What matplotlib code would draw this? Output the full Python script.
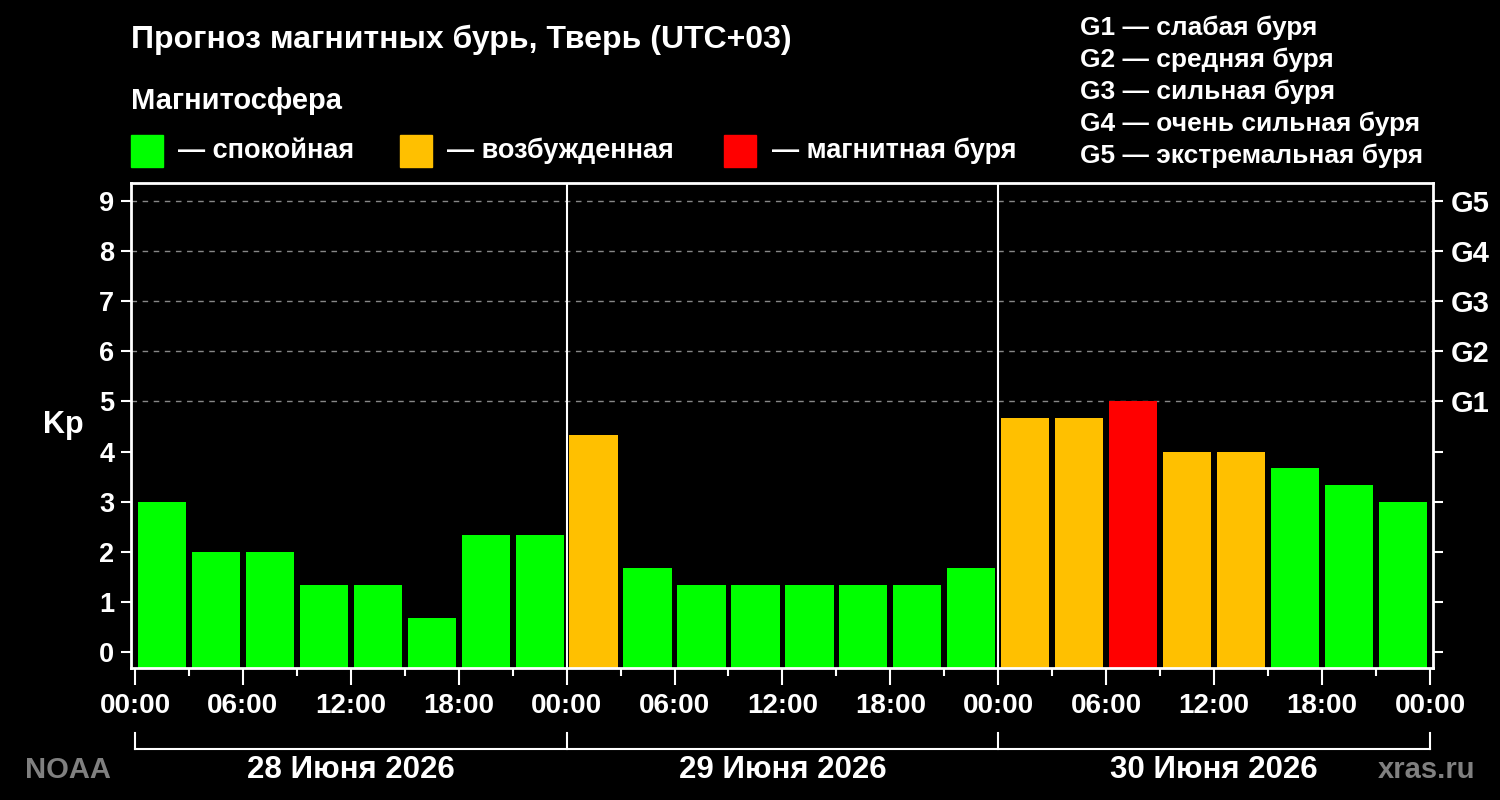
import matplotlib
matplotlib.use("Agg")
import matplotlib.pyplot as plt
import matplotlib.transforms as mtransforms

# данные прогноза Kp, шаг 3 часа
kp = [3.0, 2.0, 2.0, 1.33, 1.33, 0.67, 2.33, 2.33,
      4.33, 1.67, 1.33, 1.33, 1.33, 1.33, 1.33, 1.67,
      4.67, 4.67, 5.0, 4.0, 4.0, 3.67, 3.33, 3.0]
days = ["28 Июня 2026", "29 Июня 2026", "30 Июня 2026"]
time_labels = ["00:00", "06:00", "12:00", "18:00"] * 3 + ["00:00"]
g_levels = ["G1", "G2", "G3", "G4", "G5"]
g_names = ["слабая буря", "средняя буря", "сильная буря",
           "очень сильная буря", "экстремальная буря"]

GREEN = "#00ff00"
ORANGE = "#ffc000"
RED = "#ff0000"


def kp_color(v):
    if v >= 5:
        return RED
    if v >= 4:
        return ORANGE
    return GREEN


FONT = ["Liberation Sans", "DejaVu Sans"]

fig = plt.figure(figsize=(15, 8), dpi=100, facecolor="black")
ax = fig.add_axes([131 / 1500, 132 / 800, 1302 / 1500, 485 / 800])
ax.set_facecolor("black")

hours = [i * 3 + 1.5 for i in range(len(kp))]
ax.bar(hours, [v + 0.32 for v in kp], bottom=-0.32, width=2.68,
       color=[kp_color(v) for v in kp], zorder=2)

ax.set_xlim(-0.22, 72.17)
ax.set_ylim(-0.32, 9.36)

for s in ax.spines.values():
    s.set_color("white")
    s.set_linewidth(2)

# сетка только для уровней G
for y in range(5, 10):
    ax.axhline(y, color="#888888", lw=1, ls=(0, (4, 4)), zorder=1)

# разделители суток
for d in (24, 48):
    ax.axvline(d, color="white", lw=1.5, zorder=3)

ax.set_yticks(range(10))
ax.set_yticklabels([str(i) for i in range(10)], fontsize=19.5,
                   fontweight="bold", family=FONT, color="white")
ax.tick_params(axis="y", colors="white", length=7, width=1.5,
               direction="out", pad=5)

ax.set_xticks(range(0, 73, 6))
ax.set_xticklabels(time_labels, fontsize=20, fontweight="bold",
                   family=FONT, color="white")
ax.set_xticks(range(3, 72, 6), minor=True)
ax.tick_params(axis="x", which="major", colors="white", length=12,
               width=1.5, pad=6)
ax.tick_params(axis="x", which="minor", colors="white", length=6,
               width=1.5)

# правая ось с уровнями G
ax2 = ax.twinx()
ax2.set_ylim(ax.get_ylim())
ax2.set_yticks(range(10))
ax2.set_yticklabels([""] * 5 + g_levels, fontsize=21, fontweight="bold",
                    family=FONT, color="white")
ax2.tick_params(axis="y", colors="white", length=7, width=1.5, pad=6)
for s in ax2.spines.values():
    s.set_visible(False)

ax.set_ylabel("Kp", fontsize=22, fontweight="bold", family=FONT,
              color="white", rotation=0, labelpad=26, va="center")

# скобки дней под осью
trans = mtransforms.blended_transform_factory(ax.transData, ax.transAxes)
ax.plot([0, 72], [-0.167, -0.167], color="white", lw=1.5,
        transform=trans, clip_on=False)
for d in (0, 24, 48, 72):
    ax.plot([d, d], [-0.167, -0.134], color="white", lw=1.5,
            transform=trans, clip_on=False)
for i, name in enumerate(days):
    ax.text(i * 24 + 12, -0.21, name, transform=trans, ha="center",
            va="center", fontsize=22.5, fontweight="bold", family=FONT,
            color="white")

fig.text(25 / 1500, 1 - 770 / 800, "NOAA", fontsize=21, fontweight="bold",
         family=FONT, color="#808080", va="center")
fig.text(1475 / 1500, 1 - 770 / 800, "xras.ru", fontsize=21,
         fontweight="bold", family=FONT, color="#808080", va="center",
         ha="right")

# заголовок и легенда
fig.text(131 / 1500, 1 - 40 / 800, "Прогноз магнитных бурь, Тверь (UTC+03)",
         fontsize=23, fontweight="bold", family=FONT, color="white",
         va="center")
fig.text(131 / 1500, 1 - 101 / 800, "Магнитосфера", fontsize=21,
         fontweight="bold", family=FONT, color="white", va="center")

legend_items = [(GREEN, "— спокойная", 131, 178),
                (ORANGE, "— возбужденная", 400, 447),
                (RED, "— магнитная буря", 724, 772)]
for color, label, sx, tx in legend_items:
    fig.patches.append(plt.Rectangle((sx / 1500, 1 - 167 / 800),
                                     32 / 1500, 32 / 800, color=color,
                                     transform=fig.transFigure))
    fig.text(tx / 1500, 1 - 151 / 800, label, fontsize=19.5,
             fontweight="bold", family=FONT, color="white", va="center")

for i, (g, nm) in enumerate(zip(g_levels, g_names)):
    fig.text(1080 / 1500, 1 - (28 + 32 * i) / 800, f"{g} — {nm}",
             fontsize=19, fontweight="bold", family=FONT, color="white",
             va="center")

fig.savefig("out.png", dpi=100, facecolor="black")
